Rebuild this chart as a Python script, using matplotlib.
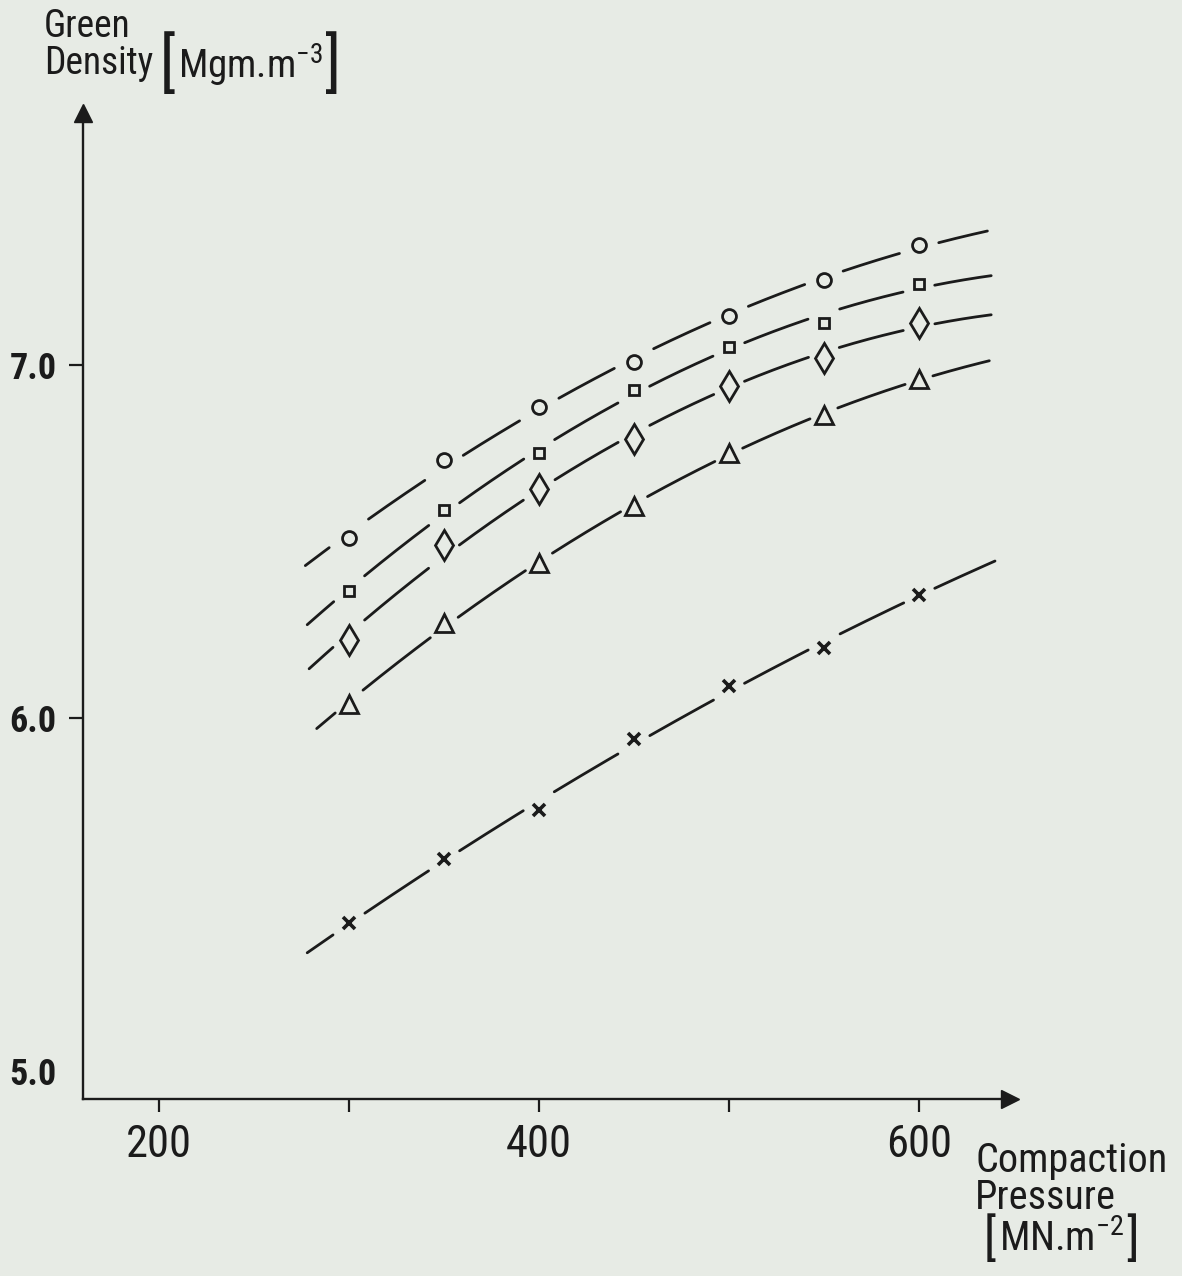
import numpy as np
import matplotlib
matplotlib.use("Agg")
import matplotlib.pyplot as plt

# compaction pressure [MN m^-2]
pressure = [300, 350, 400, 450, 500, 550, 600]

# green density [Mg m^-3], one list per curve, top to bottom
dens_circle = [6.51, 6.73, 6.88, 7.01, 7.14, 7.24, 7.34]
dens_square = [6.36, 6.59, 6.75, 6.93, 7.05, 7.12, 7.23]
dens_diamond = [6.22, 6.49, 6.65, 6.79, 6.94, 7.02, 7.12]
dens_triangle = [6.04, 6.27, 6.44, 6.60, 6.75, 6.86, 6.96]
dens_cross = [5.42, 5.60, 5.74, 5.94, 6.09, 6.20, 6.35]

# pressure range covered by each drawn curve
curve_start = [277, 278, 279, 283, 278]
curve_end = [636, 638, 638, 637, 640]

x_ticks = [200, 400, 600]
x_minor = [300, 500]
y_ticks = [5.0, 6.0, 7.0]

## ---------------------- STYLE -------------------------------
W, H = 1182, 1276
PAPER = '#e7ebe5'
INK = '#1b1b1b'
plt.rcParams['font.family'] = ['Roboto Condensed', 'Liberation Sans', 'DejaVu Sans']
plt.rcParams['mathtext.default'] = 'regular'

series = [dens_circle, dens_square, dens_diamond, dens_triangle, dens_cross]
markers = ['o', 's', 'd', '^', 'x']
msizes = [10, 7, 15, 13, 9]
gaps = [10, 8, 8, 7, 8]


def px(x, y):
    return x / W, 1 - y / H


def draw_curve(ax, xs, ys, x0, x1, gap):
    # smooth hand-drawn style curve, broken around each point
    coef = np.polyfit(xs, ys, 2)
    xx = np.linspace(x0, x1, 800)
    yy = np.polyval(coef, xx)
    keep = np.ones_like(xx, dtype=bool)
    for x in xs:
        keep &= np.abs(xx - x) > gap
    ax.plot(xx, np.where(keep, yy, np.nan), color=INK, lw=2.0,
            solid_capstyle='round')


def unit_label(fig, x, y_base, text, size, bsize, bmid):
    # "[ text ]" with tall brackets, laid out left to right
    r = fig.canvas.get_renderer()
    lb = fig.text(*px(x, bmid), '[', fontsize=bsize, color=INK, ha='left', va='center')
    x1 = lb.get_window_extent(r).x1 + 2
    t = fig.text(*px(x1, y_base), text, fontsize=size, color=INK, ha='left', va='baseline')
    x2 = t.get_window_extent(r).x1 + 2
    fig.text(*px(x2, bmid), ']', fontsize=bsize, color=INK, ha='left', va='center')


fig = plt.figure(figsize=(W / 100, H / 100), dpi=100, facecolor=PAPER)
# axes origin at (83, 1099) px, x scale 1.9 px per unit, y scale 353 px per unit
ax = fig.add_axes([83 / W, 1 - 1099 / H, 927 / W, 986 / H])
ax.set_facecolor(PAPER)
ax.set_xlim(160, 160 + 927 / 1.9)
ax.set_ylim(4.921, 4.921 + 986 / 353)

for i, ys in enumerate(series):
    draw_curve(ax, pressure, ys, curve_start[i], curve_end[i], gaps[i])
    ax.plot(pressure, ys, linestyle='none', marker=markers[i], ms=msizes[i],
            mfc='none', mec=INK, mew=2.0 if markers[i] != 'x' else 2.6)

for side in ['top', 'right']:
    ax.spines[side].set_visible(False)
for side in ['left', 'bottom']:
    ax.spines[side].set_linewidth(1.7)
    ax.spines[side].set_color(INK)

# arrow heads
ax.plot(1, 0, marker='>', ms=13, color=INK, transform=ax.transAxes, clip_on=False)
ax.plot(0, 1, marker='^', ms=13, color=INK, transform=ax.transAxes, clip_on=False)

ax.set_xticks(x_ticks)
ax.set_xticklabels([str(v) for v in x_ticks])
ax.set_xticks(x_minor, minor=True)
ax.set_yticks(y_ticks)
ax.set_yticklabels(['%.1f' % v for v in y_ticks], fontweight='bold')
ax.yaxis.get_major_ticks()[0].tick1line.set_visible(False)

ax.tick_params(axis='x', which='both', direction='out', length=9, width=1.6,
               color=INK, labelsize=32, pad=9, labelcolor=INK)
ax.tick_params(axis='y', direction='out', length=10, width=1.6, color=INK,
               labelsize=26, pad=9, labelcolor=INK)

# axis titles, written like the hand lettering
fig.text(*px(44, 8), 'Green\nDensity', fontsize=27, color=INK, ha='left', va='top',
         linespacing=1.0)
unit_label(fig, 160, 79, 'Mgm.m$^{-3}$', 28, 46, 66)

fig.text(*px(975, 1141), 'Compaction\nPressure', fontsize=29, color=INK, ha='left',
         va='top', linespacing=0.92)
unit_label(fig, 984, 1251, 'MN.m$^{-2}$', 29, 36, 1240)

fig.savefig('out.png', dpi=100, facecolor=PAPER)
